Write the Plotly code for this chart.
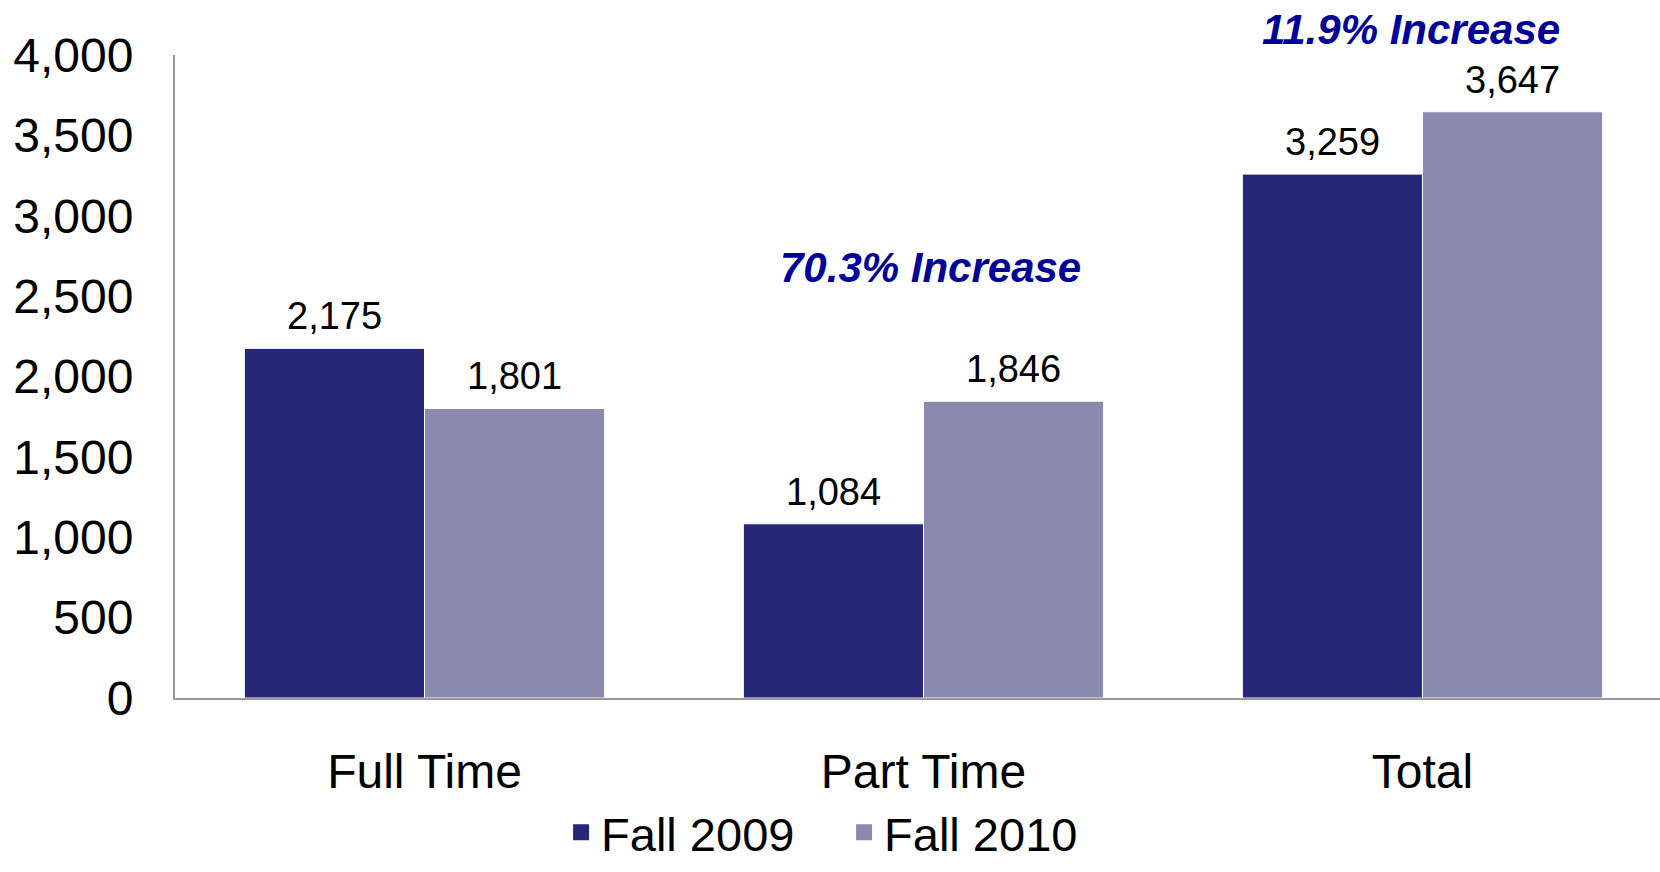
import plotly.graph_objects as go

categories = ["Full Time", "Part Time", "Total"]
fall_2009 = [2175, 1084, 3259]
fall_2010 = [1801, 1846, 3647]
series_names = ["Fall 2009", "Fall 2010"]
notes = ["70.3% Increase", "11.9% Increase"]
note_cats = ["Part Time", "Total"]
note_y = [2675, 4160]
y_ticks = [0, 500, 1000, 1500, 2000, 2500, 3000, 3500, 4000]
Y_MAX = 4000

FONT = "Liberation Sans, Arial, sans-serif"
C1 = "#262877"
C2 = "#8A8AAD"
BARGAP = 0.278

fig = go.Figure()
series = [(series_names[0], fall_2009, C1), (series_names[1], fall_2010, C2)]
for name, vals, col in series:
    fig.add_trace(go.Bar(
        x=categories, y=vals, name=name, showlegend=False,
        marker=dict(color=col, line=dict(color="white", width=1)),
    ))
    fig.add_trace(go.Scatter(
        x=[None], y=[None], mode="markers", name=name, showlegend=True,
        marker=dict(symbol="square", size=16, color=col),
    ))

# value labels above each bar (bar centre offset within its category group)
half = (1 - BARGAP) / 4
for k, (name, vals, col) in enumerate(series):
    off = -half if k == 0 else half
    for i, v in enumerate(vals):
        fig.add_annotation(x=i + off, y=v, xref="x", yref="y", text=f"{v:,}",
                           showarrow=False, yanchor="bottom", yshift=9,
                           font=dict(family=FONT, size=38, color="black"))

for t, c, yv, xs in zip(notes, note_cats, note_y, [7, -11]):
    fig.add_annotation(x=c, y=yv / Y_MAX, xref="x", yref="paper", text=f"<b><i>{t}</i></b>",
                       showarrow=False, xshift=xs, yanchor="middle",
                       font=dict(family=FONT, size=42, color="#000099"))

fig.update_layout(
    width=1660, height=872,
    margin=dict(l=175, r=0, t=55, b=174, autoexpand=False),
    paper_bgcolor="white", plot_bgcolor="white",
    barmode="group", bargap=BARGAP, bargroupgap=0,
    font=dict(family=FONT, color="black"),
    showlegend=True,
    legend=dict(orientation="h", x=0.338, xanchor="left", xref="container",
                y=0.002, yanchor="bottom", yref="container",
                font=dict(family=FONT, size=47), itemsizing="trace",
                itemwidth=30, entrywidth=238, tracegroupgap=0),
)
fig.update_xaxes(showline=True, linecolor="#999999", linewidth=2, showgrid=False,
                 range=[-0.5, 2.476], tickfont=dict(family=FONT, size=48),
                 ticks="", ticklabelstandoff=30, automargin=False)
fig.update_yaxes(showline=True, linecolor="#999999", linewidth=2, showgrid=False,
                 range=[0, Y_MAX], tickvals=y_ticks, tickformat=",",
                 tickfont=dict(family=FONT, size=48), ticks="", ticklabelstandoff=30,
                 zeroline=False, automargin=False)

fig.write_html("out.html", config={"displayModeBar": False},
               post_script="document.body.style.margin='0';document.body.style.overflow='hidden';")
